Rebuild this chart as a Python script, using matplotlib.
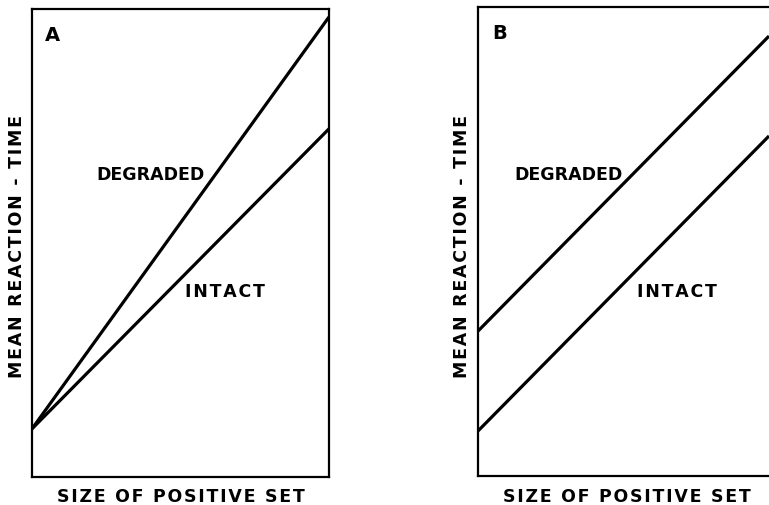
import matplotlib.pyplot as plt

# abstract values (box runs 0..100 in height)
set_size = [0, 1]
a_degraded = [10.3, 98.3]
a_intact = [10.3, 74.4]
b_degraded = [30.9, 93.8]
b_intact = [9.6, 72.5]

panel_names = ['A', 'B']
x_label = 'SIZE OF POSITIVE SET'
y_label = 'MEAN REACTION - TIME'
line_names = ['DEGRADED', 'INTACT']

W, H = 769, 506
fig = plt.figure(figsize=(W / 100, H / 100), dpi=100)

def px_axes(l, t, r, b):
    return fig.add_axes([l / W, 1 - b / H, (r - l) / W, (b - t) / H])

def spaced(s):
    # old lettering is widely tracked; put a hair space between letters
    return '\u200a'.join(s)

font = dict(family='DejaVu Sans', fontweight='bold', fontsize=12.5, color='black')

axA = px_axes(32, 10, 329, 478)
axA.set_xlim(0, 1)
axA.plot(set_size, a_degraded, color='black', lw=2.3, solid_capstyle='butt')
axA.plot(set_size, a_intact, color='black', lw=2.3, solid_capstyle='butt')

# panel B: its right border lies outside the picture
axB = px_axes(478, 8, 478 + 291 * 1.05, 477)
axB.set_xlim(0, 1.05)
axB.plot(set_size, b_degraded, color='black', lw=2.3, solid_capstyle='butt')
axB.plot(set_size, b_intact, color='black', lw=2.3, solid_capstyle='butt')

for ax, name in zip([axA, axB], panel_names):
    ax.set_ylim(0, 100)
    ax.set_xticks([])
    ax.set_yticks([])
    for s in ax.spines.values():
        s.set_linewidth(1.6)
    ax.text(0.07, 0.946, name, transform=ax.transAxes, ha='center', va='center',
            **dict(font, fontsize=14))

# line labels
fig.text(150 / W, 1 - 175 / H, line_names[0], ha='center', va='center', **font)
fig.text(225 / W, 1 - 292 / H, spaced(line_names[1]), ha='center', va='center', **font)
fig.text(568 / W, 1 - 175 / H, line_names[0], ha='center', va='center', **font)
fig.text(677 / W, 1 - 292 / H, spaced(line_names[1]), ha='center', va='center', **font)

# axis titles
fig.text(181 / W, 1 - 497 / H, spaced(x_label), ha='center', va='center', **font)
fig.text(627 / W, 1 - 497 / H, spaced(x_label), ha='center', va='center', **font)
fig.text(17 / W, 1 - 246 / H, spaced(y_label), ha='center', va='center', rotation=90, **font)
fig.text(462 / W, 1 - 246 / H, spaced(y_label), ha='center', va='center', rotation=90, **font)

fig.savefig('out.png', dpi=100)
